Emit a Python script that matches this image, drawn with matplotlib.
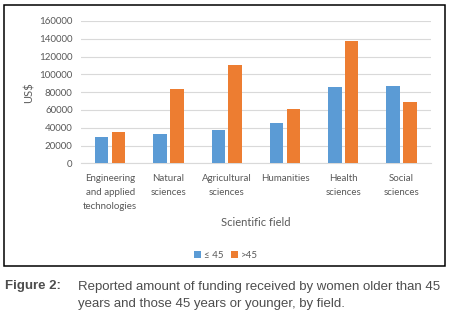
import matplotlib.pyplot as plt
import matplotlib.patches as patches
import numpy as np

fields = ["Engineering\nand applied\ntechnologies", "Natural\nsciences", "Agricultural\nsciences",
          "Humanities", "Health\nsciences", "Social\nsciences"]
young = [30000, 33000, 37500, 45500, 86000, 87000]  # <= 45
old = [35500, 84000, 110000, 61500, 137000, 69000]  # > 45
yticks = [0, 20000, 40000, 60000, 80000, 100000, 120000, 140000, 160000]

blue = "#5B9BD5"
orange = "#ED7D31"
txt = "#595959"
font = ["Lato", "DejaVu Sans"]
narrow = ["Liberation Sans Narrow", "Liberation Sans", "DejaVu Sans"]

fig = plt.figure(figsize=(4.52, 3.23), dpi=100)
ax = fig.add_axes([81 / 452, 1 - 163.3 / 323, (430.7 - 81) / 452, (163.3 - 21) / 323])

x = np.arange(len(fields))
w = 0.23
ax.bar(x - w / 2 - 0.03, young, w, color=blue, label="≤ 45", zorder=3)
ax.bar(x + w / 2 + 0.03, old, w, color=orange, label=">45", zorder=3)

ax.set_xlim(-0.5, len(fields) - 0.5)
ax.set_ylim(0, 160000)
ax.set_yticks(yticks)
ax.set_yticklabels([str(v) for v in yticks], family=font, fontsize=7, color=txt)
ax.set_xticks(x)
ax.set_xticklabels(fields, family=font, fontsize=7, color=txt, linespacing=1.65, va="top")
ax.tick_params(length=0, pad=6)
ax.tick_params(axis="x", pad=8)
ax.grid(axis="y", color="#D9D9D9", linewidth=0.8, zorder=0)
for s in ["top", "right", "left"]:
    ax.spines[s].set_visible(False)
ax.spines["bottom"].set_color("#D9D9D9")
ax.spines["bottom"].set_linewidth(0.8)

fig.text(255.8 / 452, 1 - 222.3 / 323, "Scientific field", family=font, fontsize=8,
         color=txt, ha="center", va="center")
fig.text(28.7 / 452, 1 - 92.5 / 323, "US$", family=font, fontsize=8, color=txt,
         ha="center", va="center", rotation=90)

leg = fig.legend(loc="center", bbox_to_anchor=(226 / 452, 1 - 255 / 323), ncol=2, frameon=False,
                 prop={"family": font, "size": 7}, handlelength=0.7, handleheight=0.7,
                 handletextpad=0.3, columnspacing=0.8, borderpad=0)
for t in leg.get_texts():
    t.set_color(txt)

fig.patches.append(patches.Rectangle((4 / 452, 1 - 266 / 323), 441 / 452, 261.5 / 323,
                                     transform=fig.transFigure, fill=False,
                                     edgecolor="black", linewidth=1.1))

fig.text(5 / 452, 1 - 286 / 323, "Figure 2:", family=narrow, fontsize=9.5, weight="bold",
         color="#4d4d4d", ha="left", va="center")
fig.text(77.7 / 452, 1 - 295.5 / 323,
         "Reported amount of funding received by women older than 45\n"
         "years and those 45 years or younger, by field.",
         family=narrow, fontsize=9.5, color="#4d4d4d", ha="left", va="center", linespacing=1.45)

fig.savefig("out.png", dpi=100)
